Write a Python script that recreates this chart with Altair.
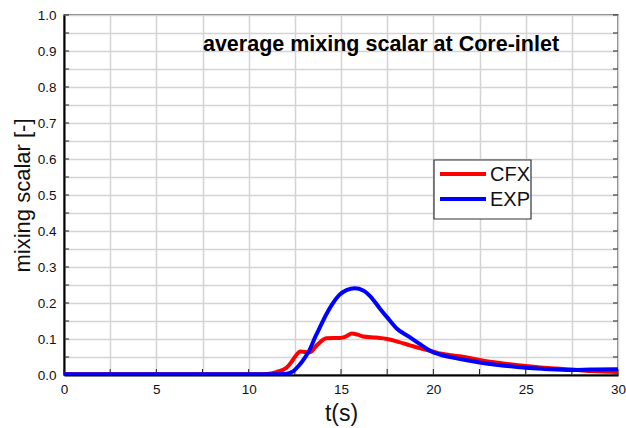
import altair as alt
import pandas as pd

cfx_t = [0, 2, 4, 6, 8, 10, 11.0, 11.5, 12.05, 12.3, 12.5, 12.8, 13.3, 13.7, 14.2, 14.6, 14.94, 15.3, 15.58, 15.9, 16.2, 16.9, 17.5, 18.1, 18.7, 19.3, 20.0, 20.35, 20.7, 21.4, 22.5, 23.5, 25.0, 26.0, 27.5, 28.5, 30.0]
cfx_y = [0.002, 0.002, 0.002, 0.002, 0.002, 0.002, 0.003, 0.008, 0.02, 0.035, 0.05, 0.065, 0.063, 0.083, 0.102, 0.103, 0.103, 0.108, 0.115, 0.112, 0.107, 0.104, 0.1, 0.092, 0.083, 0.074, 0.065, 0.06, 0.057, 0.052, 0.042, 0.034, 0.025, 0.02, 0.015, 0.011, 0.008]

exp_t = [0, 2, 4, 6, 8, 10, 11.0, 12.0, 12.4, 12.7, 13.0, 13.3, 13.6, 13.9, 14.2, 14.5, 14.9, 15.3, 15.75, 16.2, 16.6, 17.1, 17.5, 18.0, 18.7, 19.3, 20.0, 20.35, 20.7, 21.4, 22.5, 23.5, 25.0, 26.0, 27.5, 28.5, 30.0]
exp_y = [0.002, 0.002, 0.002, 0.002, 0.002, 0.002, 0.002, 0.003, 0.01, 0.025, 0.045, 0.07, 0.105, 0.137, 0.168, 0.195, 0.222, 0.236, 0.241, 0.235, 0.218, 0.185, 0.16, 0.13, 0.106, 0.085, 0.063, 0.057, 0.052, 0.045, 0.035, 0.028, 0.02, 0.017, 0.014, 0.015, 0.016]

x_tick_values = [0, 2.5, 5, 7.5, 10, 12.5, 15, 17.5, 20, 22.5, 25, 27.5, 30]
y_tick_values = [0, 0.05, 0.1, 0.15, 0.2, 0.25, 0.3, 0.35, 0.4, 0.45, 0.5, 0.55, 0.6,
                 0.65, 0.7, 0.75, 0.8, 0.85, 0.9, 0.95, 1.0]
series_names = ["CFX", "EXP"]
series_colors = ["#ff0000", "#0000ff"]
title_text = "average mixing scalar at Core-inlet"

FONT = "Liberation Sans"
W, H = 554, 360

df = pd.concat([
    pd.DataFrame({"t": cfx_t, "v": cfx_y, "series": "CFX", "o": range(len(cfx_t))}),
    pd.DataFrame({"t": exp_t, "v": exp_y, "series": "EXP", "o": range(len(exp_t))}),
])

xscale = alt.Scale(domain=[0, 30], nice=False, zero=False)
yscale = alt.Scale(domain=[0, 1], nice=False)

xaxis = alt.Axis(
    values=x_tick_values,
    labelExpr="datum.value % 5 == 0 ? datum.label : ''",
    grid=True, gridColor="#d4d4d4", gridWidth=1.5,
    ticks=False, domainColor="#000000", domainWidth=2,
    labelFontSize=13.5, labelColor="#111111", labelFont=FONT, labelPadding=7,
    labelFlush=False,
    title="t(s)", titleFontSize=23, titleFontWeight="normal", titleFont=FONT,
    titleColor="#111111", titlePadding=7)
yaxis = alt.Axis(
    values=y_tick_values,
    labelExpr="round(datum.value*100) % 10 == 0 ? format(datum.value, '.1f') : ''",
    grid=True, gridColor="#d4d4d4", gridWidth=1.5,
    ticks=False, domainColor="#000000", domainWidth=2,
    labelFontSize=13.5, labelColor="#111111", labelFont=FONT, labelPadding=8,
    labelFlush=False,
    title="mixing scalar [-]", titleFontSize=22, titleFontWeight="normal", titleFont=FONT,
    titleColor="#111111", titlePadding=3)

color = alt.Color("series:N", scale=alt.Scale(domain=series_names, range=series_colors),
                  legend=None)

lines = alt.Chart(df).mark_line(strokeWidth=4, clip=True, interpolate="monotone").encode(
    x=alt.X("t:Q", scale=xscale, axis=xaxis),
    y=alt.Y("v:Q", scale=yscale, axis=yaxis),
    color=color,
    order="o:Q",
)

xt = pd.DataFrame({"t": x_tick_values})
yt = pd.DataFrame({"v": y_tick_values})

bottom_ticks = alt.Chart(xt).mark_rule(color="#222222", strokeWidth=1).encode(
    x=alt.X("t:Q", scale=xscale, axis=xaxis), y=alt.value(H), y2=alt.value(H - 6))
left_ticks = alt.Chart(yt).mark_rule(color="#222222", strokeWidth=1).encode(
    y=alt.Y("v:Q", scale=yscale, axis=yaxis), x=alt.value(0), x2=alt.value(5))
right_ticks = alt.Chart(yt).mark_rule(color="#222222", strokeWidth=1).encode(
    y=alt.Y("v:Q", scale=yscale, axis=yaxis), x=alt.value(W), x2=alt.value(W - 5))

title = alt.Chart(pd.DataFrame({"label": [title_text]})).mark_text(
    font=FONT, fontSize=21.5, fontWeight="bold", color="#000000", align="center",
    baseline="alphabetic"
).encode(text="label:N", x=alt.value(317), y=alt.value(36))

# legend (manual, to match the compact box)
leg_box = alt.Chart(pd.DataFrame({"k": [0]})).mark_rect(
    fill="#ffffff", stroke="#333333", strokeWidth=1.2
).encode(x=alt.value(370), x2=alt.value(467), y=alt.value(145), y2=alt.value(204))

leg_layers = []
for i, (name, col) in enumerate(zip(series_names, series_colors)):
    ly = 159 + 25 * i
    d = pd.DataFrame({"series": [name]})
    leg_layers.append(alt.Chart(d).mark_rule(color=col, strokeWidth=4).encode(
        x=alt.value(376), x2=alt.value(422), y=alt.value(ly)))
    leg_layers.append(alt.Chart(d).mark_text(
        font=FONT, fontSize=20, color="#111111", align="left", baseline="middle"
    ).encode(text="series:N", x=alt.value(426), y=alt.value(ly + 1)))

chart = alt.layer(bottom_ticks, left_ticks, right_ticks, lines, title, leg_box, *leg_layers).properties(
    width=W, height=H,
    autosize=alt.AutoSizeParams(type="none"),
    padding={"left": 64, "top": 15, "right": 8, "bottom": 53},
    background="#ffffff",
).configure_view(stroke="#555555", strokeWidth=1.5)

chart.save("out.html", embed_options={"renderer": "svg", "actions": False})
